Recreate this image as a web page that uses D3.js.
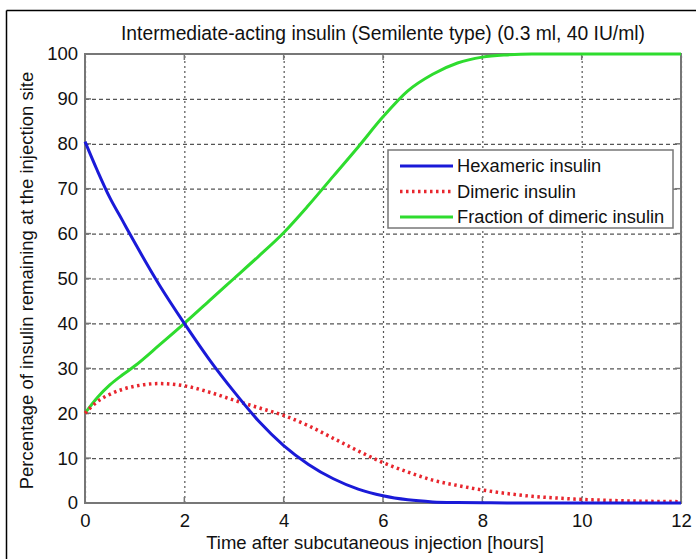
<!DOCTYPE html>
<html><head><meta charset="utf-8">
<script src="https://cdn.jsdelivr.net/npm/d3@7"></script>
<style>
html,body{margin:0;padding:0;background:#fff;}
text{font-family:"Liberation Sans",Arial,Helvetica,sans-serif;fill:#111;}
</style></head>
<body><svg id="c" width="696" height="559"></svg>
<script>
const titleText = "Intermediate-acting insulin (Semilente type) (0.3 ml, 40 IU/ml)";
const xLabel = "Time after subcutaneous injection [hours]";
const yLabel = "Percentage of insulin remaining at the injection site";
const xTicks = [0,2,4,6,8,10,12];
const yTicks = [0,10,20,30,40,50,60,70,80,90,100];
const seriesNames = ["Hexameric insulin","Dimeric insulin","Fraction of dimeric insulin"];
const hours = [0,0.25,0.5,0.75,1,1.5,2,2.5,3,3.5,4,4.5,5,5.5,6,6.5,7,7.5,8,8.5,9,9.5,10,10.5,11,11.5,12];
const hexameric = [80.5,74,68,63,58,48.5,40,32,24.8,18.2,12.8,8.6,5.4,3.1,1.6,0.7,0.25,0.1,0.05,0,0,0,0,0,0,0,0];
const dimeric = [20,22.6,24.2,25.3,26,26.6,26.1,24.7,22.9,21.2,19.5,17.2,14.4,11.6,9,6.9,5.1,3.9,2.9,2.1,1.5,1.1,0.8,0.6,0.45,0.35,0.3];
const fraction = [20,23.5,26.3,28.5,30.5,35.2,40,45,50,55,60.2,66.3,72.8,79.3,86,91.8,95.5,98,99.3,99.8,100,100,100,100,100,100,100];

const svg = d3.select("#c");
const L=85, R=681, T=54, B=503;
const x = d3.scaleLinear().domain([0,12]).range([L,R]);
const y = d3.scaleLinear().domain([0,100]).range([B,T]);

// outer border (top & left)
svg.append("line").attr("x1",6.5).attr("x2",696).attr("y1",10.5).attr("y2",10.5).attr("stroke","#000").attr("stroke-width",1.5);
svg.append("line").attr("x1",6.5).attr("x2",6.5).attr("y1",10.5).attr("y2",559).attr("stroke","#000").attr("stroke-width",1.5);

// grid
const gx = svg.append("g").attr("transform",`translate(0,${B})`)
  .call(d3.axisBottom(x).tickValues(xTicks).tickSize(-(B-T)).tickFormat(""));
gx.select(".domain").remove();
gx.selectAll("line").attr("stroke","#555").attr("stroke-width",1.2).attr("stroke-dasharray","2,3");
const gy = svg.append("g").attr("transform",`translate(${L},0)`)
  .call(d3.axisLeft(y).tickValues(yTicks).tickSize(-(R-L)).tickFormat(""));
gy.select(".domain").remove();
gy.selectAll("line").attr("stroke","#555").attr("stroke-width",1.2).attr("stroke-dasharray","4,3");

// frame
svg.append("rect").attr("x",L).attr("y",T).attr("width",R-L).attr("height",B-T)
  .attr("fill","none").attr("stroke","#777").attr("stroke-width",2);

// inner ticks on all sides
const tk = svg.append("g").attr("stroke","#777").attr("stroke-width",1.5);
xTicks.forEach(v=>{
  tk.append("line").attr("x1",x(v)).attr("x2",x(v)).attr("y1",B).attr("y2",B-6);
  tk.append("line").attr("x1",x(v)).attr("x2",x(v)).attr("y1",T).attr("y2",T+6);
});
yTicks.forEach(v=>{
  tk.append("line").attr("x1",L).attr("x2",L+6).attr("y1",y(v)).attr("y2",y(v));
  tk.append("line").attr("x1",R).attr("x2",R-6).attr("y1",y(v)).attr("y2",y(v));
});

// tick labels
const xl = svg.append("g").attr("transform",`translate(0,${B})`)
  .call(d3.axisBottom(x).tickValues(xTicks).tickSize(0).tickPadding(11).tickFormat(d3.format("d")));
xl.select(".domain").remove();
xl.selectAll("text").attr("font-size","18.5px").attr("font-family","Liberation Sans, Arial, sans-serif").attr("fill","#111");
const yl = svg.append("g").attr("transform",`translate(${L},0)`)
  .call(d3.axisLeft(y).tickValues(yTicks).tickSize(0).tickPadding(7).tickFormat(d3.format("d")));
yl.select(".domain").remove();
yl.selectAll("text").attr("font-size","18.5px").attr("font-family","Liberation Sans, Arial, sans-serif").attr("fill","#111");

// series
const data = hours.map((h,i)=>({h, hex:hexameric[i], dim:dimeric[i], fr:fraction[i]}));
const mk = key => d3.line().x(d=>x(d.h)).y(d=>y(d[key])).curve(d3.curveMonotoneX);
const styles = [
  {key:"hex", color:"#1a1ad8", dash:null, w:3},
  {key:"dim", color:"#e8262e", dash:"2.5,3.5", w:3.5},
  {key:"fr", color:"#2edc2e", dash:null, w:3}
];
const plotG = svg.append("g");
[2,1,0].forEach(i=>{
  const s = styles[i];
  plotG.append("path").datum(data).attr("d",mk(s.key)).attr("fill","none")
    .attr("stroke",s.color).attr("stroke-width",s.w)
    .attr("stroke-dasharray",s.dash).attr("stroke-linejoin","round");
});

// legend
const lg = svg.append("g");
lg.append("rect").attr("x",388).attr("y",150).attr("width",285).attr("height",78)
  .attr("fill","#fff").attr("stroke","#777").attr("stroke-width",1.5);
seriesNames.forEach((n,i)=>{
  const yy = 166 + i*25.5;
  const s = styles[i];
  lg.append("line").attr("x1",400).attr("x2",453).attr("y1",yy).attr("y2",yy)
    .attr("stroke",s.color).attr("stroke-width",s.w).attr("stroke-dasharray",s.dash);
  lg.append("text").attr("x",457).attr("y",yy).attr("dy","0.35em").attr("font-size","18.3px").text(n);
});

// title & labels
svg.append("text").attr("x",(L+R)/2).attr("y",40).attr("text-anchor","middle").attr("font-size","19.3px").text(titleText);
svg.append("text").attr("x",375).attr("y",549).attr("text-anchor","middle").attr("font-size","18.5px").text(xLabel);
svg.append("text").attr("transform",`translate(33,${(T+B)/2 + 2}) rotate(-90)`).attr("text-anchor","middle").attr("font-size","18.5px").text(yLabel);
</script></body></html>
